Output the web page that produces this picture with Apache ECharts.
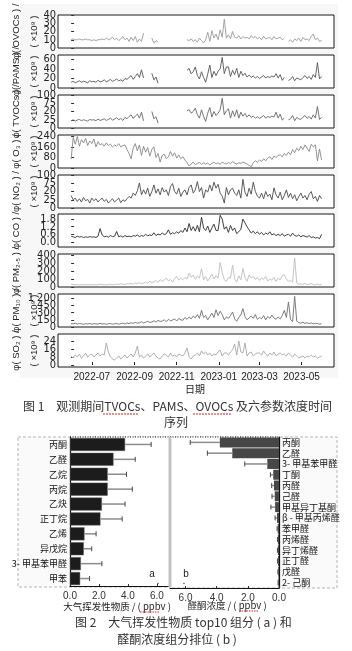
<!DOCTYPE html>
<html>
<head>
<meta charset="utf-8">
<script src="https://cdn.jsdelivr.net/npm/echarts@6/dist/echarts.min.js"></script>
<style>
  html, body { margin: 0; padding: 0; background: #fff; }
  #chart { width: 352px; height: 651px; }
</style>
</head>
<body>
<div id="chart"></div>
<script>
/* ---------------- DATA ---------------- */

// time series: one sample every 3 days, day 0 = 2022-06-01
const STEP = 3;
const monthTicks = [30, 92, 153, 214, 273, 334];
const monthLabels = ["2022-07", "2022-09", "2022-11", "2023-01", "2023-03", "2023-05"];

const ovocs = [
  10, 11, 10, 10, 11, 10, 10, 11, 10, 10, 9,
  10, 9, 10, 10, 11, 10, 12, 10, 11, 13,
  10, 12, 9, 11, 14, 10, 12, 8, 13, 9,
  14, 7, 11, 8, 18,
  null, null, null,
  12, 6, 9, 7,
  null, null, null, null, null, null, null, null, null, null, null, null, null,
  10, 9, 11, 8, 10, 7, 12, 9, 6, 10,
  19, 8, 21, 12, 17, 10, 22, 13, 35, 12,
  16, 11, 20, 13, 12, 15, 11, 14, 12, 13,
  11, 15, 12, 14, 11, 13, 10, 14, 11, 12,
  13, 10, 14, 11, 12, 13, 10, 12,
  null,
  8, 10, 7, 11, 9, 12, 8, 13, 10, 11, 9, 14, 17, 10, 12, 8, 9,
];
const pams = [
  12, 14, 11, 13, 15, 12, 14, 13, 11, 15, 13, 14, 12, 16, 13,
  14, 17, 13, 15, 18, 14, 16, 19, 15, 17, 14, 20, 18, 22,
  26, 18, 24, 30, 22, 38, 21,
  null, null, null,
  31, 17, 23, 10,
  null, null, null, null, null, null, null, null, null, null, null, null, null,
  37, 41, 30, 34, 44, 26, 19, 34, 22, 12,
  29, 48, 22, 35, 26, 35, 40, 64, 30, 44,
  44, 24, 37, 28, 41, 22, 35, 26, 31, 23,
  27, 22, 25, 21, 24, 20, 23, 26, 21, 24,
  22, 25, 23, 30, 21, 28, 16, 22,
  null,
  16, 18, 24, 15, 21, 19, 17, 22, 26, 20, 24, 18, 28, 22, 53, 19, 24,
];
const tvocs = [
  22, 25, 21, 24, 26, 22, 25, 23, 21, 26, 24, 25, 22, 27, 23,
  25, 28, 23, 26, 30, 24, 27, 31, 25, 29, 23, 32, 28, 35,
  40, 29, 36, 42, 30, 48, 22,
  null, null, null,
  50, 28, 34, 15,
  null, null, null, null, null, null, null, null, null, null, null, null, null,
  52, 56, 45, 50, 60, 40, 30, 55, 35, 20,
  45, 62, 33, 50, 38, 45, 55, 90, 40, 52,
  58, 30, 52, 35, 55, 30, 48, 36, 44, 33,
  40, 32, 36, 30, 34, 29, 33, 38, 30, 35,
  32, 36, 33, 48, 30, 42, 24, 30,
  null,
  25, 28, 38, 22, 32, 28, 26, 33, 38, 29, 35, 27, 40, 30, 65, 26, 32,
];
const o3 = [
  67, 230, 180, 240, 165, 215, 190, 225, 170, 205, 185,
  220, 160, 200, 175, 185, 165, 190, 170, 180, 160,
  175, 165, 185, 160, 170, 175, 140, 110, 70, 150,
  185, 130, 175, 95, 165, 120, 155, 90, 140, 160,
  80, 110, 45, 95, 105, 70, 85, 125, 90, 115,
  75, 100, 70, 85, 60, 40, 15, 30, 45, 25,
  35, 42, 28, 40, 30, 38, 22, 35, 45, 30,
  40, 28, 45, 35, 30, 42, 33, 48, 38, 30,
  40, 35, 45, 38, 30, 20, 10, 40, 55, 45,
  60, 50, 70, 55, 75, 85, 65, 90, 80, 95,
  100, 85, 110, 95, 120, 100, 140, 115, 150, 130,
  165, 140, 175, 150, 125, 180, 160, 175, 55, 145, 60,
];
const no2 = [
  38, 25, 30, 20, 28, 18, 32, 22, 26, 15, 30,
  22, 28, 18, 25, 30, 20, 26, 15, 22, 28,
  18, 24, 30, 16, 25, 20, 28, 35, 30, 45,
  38, 52, 76, 40, 55, 42, 60, 35, 50, 70,
  45, 58, 40, 62, 48, 55, 38, 65, 74, 50,
  42, 60, 35, 48, 55, 40, 62, 70, 45, 55,
  80, 50, 62, 30, 55, 48, 70, 52, 78, 60,
  72, 45, 36, 15, 62, 40, 55, 60, 45, 38,
  55, 30, 87, 48, 35, 60, 42, 78, 50, 36,
  30, 45, 28, 50, 35, 42, 25, 61, 40, 30,
  48, 25, 38, 55, 32, 45, 28, 40, 22, 35,
  45, 30, 38, 25, 42, 50, 28, 35, 20, 38, 28,
];
const co = [
  0.45, 0.4, 0.35, 0.45, 0.38, 0.42, 0.35, 0.4, 0.36, 0.42, 0.38,
  0.4, 0.35, 0.45, 1.05, 0.55, 0.4, 0.45, 0.38, 0.5, 0.42,
  0.45, 0.82, 0.4, 0.48, 0.38, 0.5, 0.42, 0.45, 0.4, 0.5,
  0.45, 0.55, 0.42, 0.5, 0.45, 0.6, 0.48, 0.55, 0.5, 0.72,
  0.5, 0.62, 0.55, 0.7, 0.58, 0.65, 0.95, 0.6, 0.72, 0.65,
  0.8, 0.68, 0.9, 0.75, 1.1, 0.8, 1.45, 0.9, 1.2, 0.85,
  1.3, 0.8, 1.95, 1.1, 0.9, 1.25, 0.75, 1.1, 1.4, 0.9,
  0.9, 2.1, 1.8, 1.0, 1.2, 0.75, 1.3, 0.9, 1.1, 0.65,
  0.8, 1.0, 1.8, 1.5, 1.2, 0.95, 0.7, 0.85, 0.65, 0.8,
  0.6, 0.75, 0.55, 0.7, 0.6, 0.8, 0.55, 0.65, 0.5, 0.6,
  0.5, 0.65, 0.45, 0.55, 0.6, 0.45, 0.7, 0.5, 0.45, 0.55,
  0.4, 0.5, 0.45, 0.38, 0.5, 0.35, 0.4, 0.3, 0.35, 0.25, 0.6,
];
const pm25 = [
  35, 30, 28, 32, 25, 30, 28, 33, 26, 30, 28,
  32, 25, 30, 35, 28, 32, 26, 30, 34, 28,
  30, 36, 32, 40, 35, 30, 42, 38, 45, 35,
  50, 42, 55, 40, 48, 60, 45, 72, 55, 65,
  80, 58, 92, 70, 85, 112, 75, 95, 60, 105,
  132, 85, 110, 90, 120, 100, 172, 120, 150, 95,
  140, 110, 232, 90, 130, 75, 115, 160, 100, 140,
  110, 304, 180, 90, 70, 120, 110, 272, 100, 60,
  140, 90, 232, 120, 72, 150, 110, 132, 95, 120,
  80, 110, 95, 130, 75, 100, 85, 120, 70, 110,
  90, 140, 152, 100, 70, 80, 60, 360, 50, 35,
  40, 30, 45, 28, 35, 42, 30, 25, 38, 28, 32,
];
const pm10 = [
  75, 65, 80, 60, 72, 68, 55, 70, 62, 75, 58,
  70, 65, 60, 78, 62, 70, 55, 68, 72, 60,
  65, 75, 58, 70, 80, 62, 85, 70, 90, 75,
  95, 80, 88, 110, 85, 100, 120, 95, 105, 130,
  100, 140, 115, 125, 150, 110, 160, 130, 145, 170,
  125, 180, 150, 140, 200, 160, 210, 170, 230, 190,
  260, 180, 350, 200, 240, 150, 220, 290, 200, 360,
  240, 330, 260, 150, 210, 180, 240, 314, 170, 120,
  200, 250, 384, 220, 150, 190, 230, 180, 260, 160,
  200, 170, 240, 150, 220, 180, 250, 190, 160, 210,
  170, 240, 350, 200, 523, 160, 110, 642, 120, 90,
  80, 100, 75, 90, 70, 85, 65, 80, 72, 60, 68,
];
const so2 = [
  9, 7, 10, 8, 11, 7, 9, 12, 8, 10, 11,
  8, 10, 12, 9, 11, 10, 22, 13, 8, 6,
  5, 7, 9, 6, 8, 10, 7, 9, 11, 8,
  12, 19, 8, 10, 7, 9, 11, 8, 10, 12,
  9, 7, 6, 9, 11, 10, 8, 12, 9, 10,
  8, 11, 10, 9, 12, 17, 8, 6, 9, 10,
  12, 9, 14, 11, 13, 10, 12, 9, 11, 10,
  13, 15, 9, 12, 12, 10, 13, 15, 21, 10,
  24, 13, 12, 22, 9, 12, 13, 9, 11, 12,
  12, 10, 14, 11, 9, 12, 10, 13, 9, 11,
  12, 10, 11, 9, 12, 10, 8, 11, 9, 7,
  8, 9, 7, 9, 8, 10, 8, 9, 7, 8, 9,
];

// y tick values and the text printed at them
const ovocTicks = [0, 10, 20, 30, 40];
const pamsTicks = [0, 20, 40, 60];
const tvocTicks = [0, 25, 50, 75, 100];
const tvocTickText = ["0", "25", "20", "75", "100"];
const o3Ticks = [0, 80, 160, 240];
const no2Ticks = [0, 25, 50, 75, 100];
const no2TickText = ["0", "25", "20", "75", "100"];
const coTicks = [0, 0.6, 1.2, 1.8];
const pm25Ticks = [0, 100, 200, 300, 400];
const pm10Ticks = [0, 150, 300, 450, 600];
const pm10TickText = ["0", "150", "300", "450", "1 200"];
const so2Ticks = [0, 8, 16, 24];

// figure 2
const topNames = ["丙酮", "乙醛", "乙烷", "丙烷", "乙炔", "正丁烷", "乙烯", "异戊烷", "3- 甲基苯甲醛", "甲苯"];
const topMeans = [3.8, 3.0, 2.6, 2.6, 2.2, 2.1, 1.0, 0.95, 0.75, 0.7];
const topErrs = [1.8, 1.5, 1.3, 1.7, 1.6, 1.5, 0.8, 0.55, 1.45, 0.65];

const carbNames = ["丙酮", "乙醛", "3- 甲基苯甲醛", "丁酮", "丙醛", "己醛", "甲基异丁基酮", "β - 甲基丙烯醛",
  "苯甲醛", "丙烯醛", "异丁烯醛", "正丁醛", "戊醛", "2- 己酮"];
const carbMeans = [3.8, 3.0, 0.75, 0.37, 0.32, 0.27, 0.25, 0.13, 0.08, 0.07, 0.07, 0.06, 0.05, 0.04];
const carbErrs = [1.9, 1.6, 1.45, 0.18, 0.15, 0.18, 0.27, 0.12, 0.04, 0.03, 0.03, 0.03, 0.02, 0.02];
const scaleTicks = [0, 2, 4, 6];

/* ---------------- LAYOUT ---------------- */

const SANS = "'Liberation Sans', 'DejaVu Sans', sans-serif";
const NARROW = "'Liberation Sans Narrow', 'DejaVu Sans Condensed', sans-serif";
const CJK = "'Noto Sans CJK SC', 'Noto Sans', sans-serif";

const panels = [
  { data: ovocs, min: 0, max: 40, ticks: ovocTicks, color: "#9a9a9a", name: "φ( OVOCs ) /", unit: "( ×10⁹ )" },
  { data: pams, min: 0, max: 69, ticks: pamsTicks, color: "#555", name: "φ( PAMS ) /", unit: "( ×10⁹ )" },
  { data: tvocs, min: 0, max: 100, ticks: tvocTicks, text: tvocTickText, color: "#666", name: "φ( TVOCs ) /", unit: "( ×10⁹ )" },
  { data: o3, min: 0, max: 250, ticks: o3Ticks, color: "#888", name: "φ( O₃ ) /", unit: "( ×10⁹ )" },
  { data: no2, min: 0, max: 100, ticks: no2Ticks, text: no2TickText, color: "#4a4a4a", name: "φ( NO₂ ) /", unit: "( ×10⁹ )" },
  { data: co, min: -0.4, max: 2.2, ticks: coTicks, color: "#2a2a2a", name: "φ( CO ) /", unit: "" },
  { data: pm25, min: 0, max: 410, ticks: pm25Ticks, color: "#bdbdbd", name: "φ( PM₂.₅ ) /", unit: "" },
  { data: pm10, min: 0, max: 690, ticks: pm10Ticks, text: pm10TickText, color: "#6e6e6e", name: "φ( PM₁₀ ) /", unit: "( ×10⁹ )" },
  { data: so2, min: -2, max: 31, ticks: so2Ticks, color: "#a6a6a6", name: "φ( SO₂ ) /", unit: "( ×10⁹ )" },
];
const tops = [15, 55, 95, 135, 175, 214, 254, 294, 334];
const PANEL_H = 33;

const grids = [], xAxes = [], yAxes = [], series = [], graphics = [];

graphics.push({ type: "rect", z: -10, shape: { x: 20, y: 4, width: 318, height: 374 }, style: { fill: "#f7f7f7" } });

panels.forEach((p, i) => {
  const last = i === panels.length - 1;
  grids.push({
    left: 58, width: 276, top: tops[i], height: PANEL_H,
    show: true, backgroundColor: "#fff", borderColor: "#1a1a1a", borderWidth: 1,
  });
  xAxes.push({
    gridIndex: i, type: "value", min: -19, max: 381,
    axisLine: { show: false }, splitLine: { show: false },
    axisTick: { show: last, inside: true, length: 3, customValues: monthTicks, lineStyle: { color: "#222" } },
    axisLabel: {
      show: last, customValues: monthTicks, margin: 5,
      showMinLabel: true, showMaxLabel: true,
      fontSize: 10, fontFamily: SANS, color: "#222",
      formatter: (v) => monthLabels[monthTicks.indexOf(v)] || "",
    },
  });
  const fmt = (v) => {
    const k = p.ticks.indexOf(v);
    if (p.text) return p.text[k];
    return p.min < 0 && p.max < 5 ? v.toFixed(1) : String(v);
  };
  // labels sit only 8px apart, so alternate them over two stacked axes
  // (otherwise ECharts drops the overlapping ones)
  [0, 1].forEach((parity) => {
    const vals = p.ticks.filter((_, k) => k % 2 === parity);
    yAxes.push({
      gridIndex: i, type: "value", min: p.min, max: p.max, position: "left", offset: 0,
      axisLine: { show: false }, splitLine: { show: false },
      axisTick: { show: parity === 0, inside: true, length: 3, customValues: p.ticks, lineStyle: { color: "#333" } },
      axisLabel: {
        customValues: vals, margin: 2, fontSize: 11, fontFamily: NARROW, color: "#222",
        showMinLabel: true, showMaxLabel: true, formatter: fmt,
      },
    });
  });
  series.push({
    type: "line", xAxisIndex: i, yAxisIndex: 2 * i,
    data: p.data.map((v, k) => [k * STEP, v]),
    showSymbol: false, silent: true,
    lineStyle: { color: p.color, width: 0.9 },
  });
  const cy = tops[i] + PANEL_H / 2;
  graphics.push({
    type: "text", x: 16, y: cy, rotation: Math.PI / 2,
    style: { text: p.name, fontSize: 9.5, fontFamily: SANS, fill: "#222", align: "center", verticalAlign: "middle" },
  });
  if (p.unit) graphics.push({
    type: "text", x: 34, y: cy, rotation: Math.PI / 2,
    style: { text: p.unit, fontSize: 9.5, fontFamily: SANS, fill: "#222", align: "center", verticalAlign: "middle" },
  });
});

graphics.push(
  { type: "text", x: 195, y: 389, style: { text: "日期", fontSize: 10, fontFamily: CJK, fill: "#222", align: "center", verticalAlign: "middle" } },
  { type: "text", x: 23, y: 406, style: { text: "图 1　观测期间TVOCs、PAMS、OVOCs 及六参数浓度时间", fontSize: 12, fontFamily: CJK, fill: "#333", verticalAlign: "middle" } },
  { type: "text", x: 176, y: 422, style: { text: "序列", fontSize: 12, fontFamily: CJK, fill: "#333", align: "center", verticalAlign: "middle" } },
  { type: "line", shape: { x1: 103, y1: 414, x2: 138, y2: 414 }, style: { stroke: "#d22", lineWidth: 1, lineDash: [2, 1] } },
  { type: "line", shape: { x1: 193, y1: 414, x2: 232, y2: 414 }, style: { stroke: "#d22", lineWidth: 1, lineDash: [2, 1] } },
);

/* ---------------- FIGURE 2 ---------------- */

function errorBar(params, api) {
  const a = api.coord([api.value(0), api.value(1)]);
  const b = api.coord([api.value(2), api.value(1)]);
  return {
    type: "group",
    children: [
      { type: "line", shape: { x1: a[0], y1: a[1], x2: b[0], y2: b[1] }, style: { stroke: "#8c8c8c", lineWidth: 1.5 } },
      { type: "line", shape: { x1: b[0], y1: b[1] - 2.5, x2: b[0], y2: b[1] + 2.5 }, style: { stroke: "#444", lineWidth: 1 } },
    ],
  };
}

const g2 = grids.length;
grids.push({ left: 70, width: 100, top: 437, height: 149 });
grids.push({ left: 170, width: 109, top: 437, height: 151 });

const scaleAxis = (gi, max, inverse) => ({
  gridIndex: gi, type: "value", min: 0, max, inverse,
  splitLine: { show: false },
  axisLine: { show: true, lineStyle: { color: "#111", width: 1 } },
  axisTick: { show: true, inside: true, length: 2, customValues: scaleTicks, lineStyle: { color: "#333" } },
  axisLabel: {
    customValues: scaleTicks, margin: 5, fontSize: 10, fontFamily: SANS, color: "#333",
    showMinLabel: true, showMaxLabel: true, formatter: (v) => v.toFixed(1),
  },
});
xAxes.push(scaleAxis(g2, 6.9, false));
xAxes.push(scaleAxis(g2 + 1, 7.0, true));

const nameAxis = (gi, names, pos) => ({
  gridIndex: gi, type: "category", data: names, inverse: true, position: pos,
  axisLine: { show: true, lineStyle: { color: "#111", width: 1.2 } },
  axisTick: { show: false },
  axisLabel: { margin: 3, fontSize: 9, fontFamily: CJK, color: "#111", interval: 0 },
});
yAxes.push(nameAxis(g2, topNames, "left"));
yAxes.push(nameAxis(g2 + 1, carbNames, "right"));

const xi = xAxes.length - 2, yi = yAxes.length - 2;
series.push(
  { type: "bar", xAxisIndex: xi, yAxisIndex: yi, data: topMeans, barWidth: 13, itemStyle: { color: "#1c1c1c", borderColor: "#555", borderWidth: 0.5 }, silent: true },
  { type: "custom", xAxisIndex: xi, yAxisIndex: yi, renderItem: errorBar, encode: { x: [0, 2], y: 1 },
    data: topMeans.map((m, k) => [m, k, m + topErrs[k]]), silent: true, z: 3 },
  { type: "bar", xAxisIndex: xi + 1, yAxisIndex: yi + 1, data: carbMeans, barWidth: 10, itemStyle: { color: "#474747" }, silent: true },
  { type: "custom", xAxisIndex: xi + 1, yAxisIndex: yi + 1, renderItem: errorBar, encode: { x: [0, 2], y: 1 },
    data: carbMeans.map((m, k) => [m, k, m + carbErrs[k]]), silent: true, z: 3 },
);

graphics.push(
  { type: "rect", z: -5, shape: { x: 18, y: 437, width: 152, height: 150 }, style: { fill: "#fafafa", stroke: "#b5b5b5", lineWidth: 1, lineDash: [3, 2] } },
  { type: "rect", z: -5, shape: { x: 170, y: 437, width: 167, height: 151 }, style: { fill: "#fafafa", stroke: "#b5b5b5", lineWidth: 1, lineDash: [3, 2] } },
  { type: "rect", z: -4, shape: { x: 70, y: 437, width: 209, height: 150 }, style: { fill: "#fff" } },
  { type: "line", z: 10, shape: { x1: 70, y1: 437, x2: 279, y2: 437 }, style: { stroke: "#111", lineWidth: 1, lineDash: [1, 1.5] } },
  { type: "line", z: 10, shape: { x1: 170, y1: 437, x2: 170, y2: 587 }, style: { stroke: "#c2c2c2", lineWidth: 3 } },
  { type: "text", x: 152, y: 574, style: { text: "a", fontSize: 10, fontFamily: SANS, fill: "#222", align: "center", verticalAlign: "middle" } },
  { type: "circle", shape: { cx: 158, cy: 583.5, r: 0.8 }, style: { fill: "#555" } },
  { type: "text", x: 186, y: 574, style: { text: "b", fontSize: 10, fontFamily: SANS, fill: "#222", align: "center", verticalAlign: "middle" } },
  { type: "circle", shape: { cx: 184, cy: 583.5, r: 0.8 }, style: { fill: "#555" } },
  { type: "text", x: 117, y: 606, style: { text: "大气挥发性物质 / ( ppbv )", fontSize: 9.5, fontFamily: CJK, fill: "#222", align: "center", verticalAlign: "middle" } },
  { type: "text", x: 227, y: 605, style: { text: "醛酮浓度 / ( ppbv )", fontSize: 9.5, fontFamily: CJK, fill: "#222", align: "center", verticalAlign: "middle" } },
  { type: "line", shape: { x1: 140, y1: 612, x2: 160, y2: 612 }, style: { stroke: "#d22", lineWidth: 1, lineDash: [1.5, 1] } },
  { type: "line", shape: { x1: 239, y1: 611, x2: 259, y2: 611 }, style: { stroke: "#d22", lineWidth: 1, lineDash: [1.5, 1] } },
  { type: "text", x: 75, y: 622, style: { text: "图 2　大气挥发性物质 top10 组分 ( a ) 和", fontSize: 12, fontFamily: CJK, fill: "#333", verticalAlign: "middle" } },
  { type: "text", x: 177, y: 639, style: { text: "醛酮浓度组分排位 ( b )", fontSize: 12, fontFamily: CJK, fill: "#333", align: "center", verticalAlign: "middle" } },
);

/* ---------------- CHART ---------------- */

const chart = echarts.init(document.getElementById("chart"), null, { renderer: "canvas" });
chart.setOption({
  animation: false,
  backgroundColor: "#fff",
  grid: grids,
  xAxis: xAxes,
  yAxis: yAxes,
  series,
  graphic: graphics,
});
</script>
</body>
</html>
